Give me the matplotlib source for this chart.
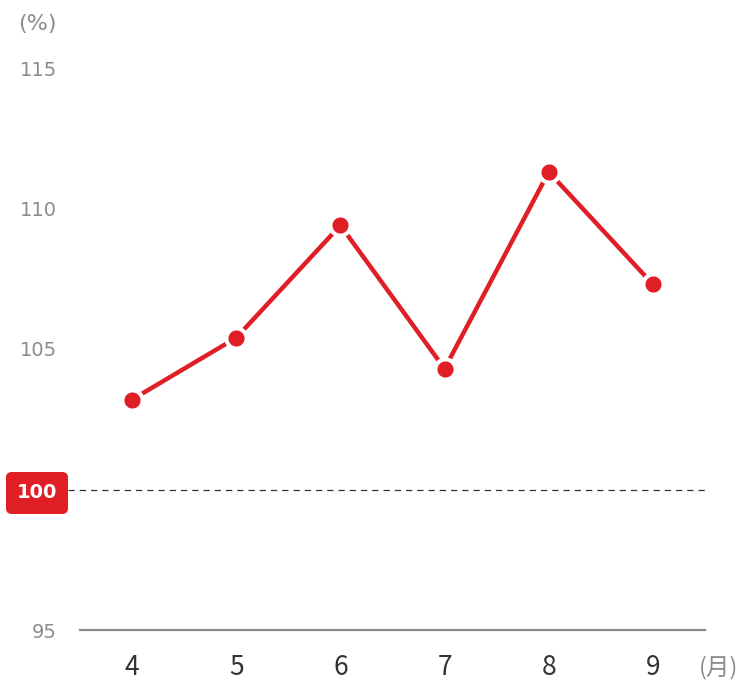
import matplotlib.pyplot as plt
from matplotlib.patches import FancyBboxPatch

months = [4, 5, 6, 7, 8, 9]
values = [103.2, 105.4, 109.4, 104.3, 111.3, 107.3]
yticks = [95, 105, 110, 115]
baseline = 100

red = "#e01e26"
grey = "#8c8c8c"

W, H = 746, 682
fig = plt.figure(figsize=(W / 100, H / 100), dpi=100)
# axes box in pixels: x 80..705, y 40..630
ax = fig.add_axes([80 / W, (H - 630) / H, 625 / W, 590 / H])
ax.set_xlim(3.5, 9.5)
ax.set_ylim(95, 95 + 590 / 28.1)

for s in ["top", "right", "left"]:
    ax.spines[s].set_visible(False)
ax.spines["bottom"].set_color(grey)
ax.spines["bottom"].set_linewidth(1.6)

ax.set_yticks(yticks)
ax.set_yticklabels([str(v) for v in yticks], fontsize=14, color=grey,
                   family="DejaVu Sans")
ax.tick_params(axis="y", length=0, pad=16.5)

ax.set_xticks(months)
ax.set_xticklabels([str(m) for m in months], fontsize=19, color="#333333",
                   family="Noto Sans CJK JP")
ax.tick_params(axis="x", length=0, pad=17)

# reference line at 100
ax.axhline(baseline, xmin=-12 / 625, xmax=1.005, color="#333333", lw=0.9,
           ls=(0, (5, 4)), clip_on=False)

ax.plot(months, values, color=red, lw=3.2, marker="o", ms=14.5,
        mfc=red, mec="white", mew=2.9, solid_capstyle="butt", zorder=3)

# red label box for 100
box = FancyBboxPatch((6 / W + 0.006, (H - 514) / H + 0.006), 62 / W - 0.012,
                     42 / H - 0.012, boxstyle="round,pad=0.006,rounding_size=0.008",
                     transform=fig.transFigure, fc=red, ec="none")
fig.patches.append(box)
fig.text(37 / W, (H - 493) / H, "100", color="white", fontsize=14,
         fontweight="bold", ha="center", va="center", family="DejaVu Sans")

fig.text(57 / W, (H - 24) / H, "(%)", color=grey, fontsize=16,
         ha="right", va="center", family="DejaVu Sans")
fig.text(699 / W, (H - 668) / H, "(月)", color=grey, fontsize=17,
         ha="left", va="center", family=["Noto Sans CJK JP", "DejaVu Sans"])

fig.savefig("out.png", dpi=100)
